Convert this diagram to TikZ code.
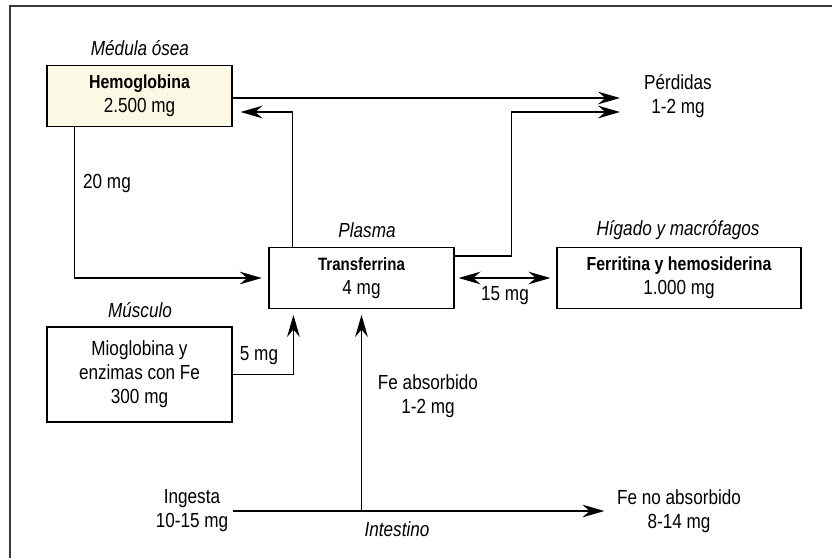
\documentclass[tikz,border=0pt]{standalone}
\usepackage{fontspec}
\setmainfont{Liberation Sans}[FakeStretch=0.84]
\usetikzlibrary{arrows.meta}

\definecolor{crema}{HTML}{FBF8E3}
\definecolor{marco}{HTML}{3A3A3A}

\begin{document}
\begin{tikzpicture}[x=0.75pt, y=-0.75pt,
    every node/.style={font=\fontsize{15.3}{18}\selectfont, align=center},
    caja/.style={draw, line width=0.85pt, minimum width=138.75pt, minimum height=45.5pt},
    flecha/.style={line width=1.05pt, -{Stealth[length=16.5pt, width=9.5pt, inset=5.5pt]}}]
    \useasboundingbox (0,0) rectangle (832,558);
    % marc retallat (només esquerra i dalt)
    \draw[marco, line width=1.5pt] (10,558) -- (10,6) -- (832,6);
    % compartiments
    \node[caja, fill=crema] (hemo) at (139.5,96) {{\bfseries\fontsize{14.2}{18}\selectfont Hemoglobina}\\2.500 mg};
    \node[caja] (trans) at (361.5,278) {{\bfseries\fontsize{13.4}{18}\selectfont Transferrina}\\4 mg};
    \node[caja, minimum width=183pt] (ferr) at (679,278) {{\bfseries\fontsize{14.2}{18}\selectfont Ferritina y hemosiderina}\\1.000 mg};
    \node[caja, minimum height=71.25pt] (musc) at (139.5,374.5) {Mioglobina y\\enzimas con Fe\\300 mg};
    % rètols en cursiva
    \node (medula) at (140,48) {\itshape Médula ósea};
    \node (plasma) at (367,230) {\itshape Plasma};
    \node (higado) at (678,230) {\itshape Hígado y macrófagos};
    \node (musculo) at (140,310) {\itshape Músculo};
    \node (intest) at (397,529) {\itshape Intestino};
    % entrades i sortides
    \node (perd) at (678,96) {Pérdidas\\1-2 mg};
    \node (ing) at (192,511) {Ingesta\\10-15 mg};
    \node (feno) at (679,511) {Fe no absorbido\\8-14 mg};
    \node (feabs) at (428,396) {Fe absorbido\\1-2 mg};
    \node (m20) at (107,183) {20 mg};
    \node (m5) at (259,356) {5 mg};
    \node (m15) at (505,296) {15 mg};
    % fletxes
    \coordinate (p1) at (620,98);
    \coordinate (p2) at (620,112);
    \draw[flecha] (hemo.east |- p1) -- (p1);
    \draw[flecha] ([yshift=-6.75pt]trans.north east) -- ++(57,0) |- (p2);
    \draw[flecha, shorten >=6pt] ([xshift=18pt]trans.north west) |- (hemo.east |- p2);
    \draw[flecha, shorten >=5pt] ([xshift=21pt]hemo.south west) |- (trans.west);
    \draw[line width=1.05pt, {Stealth[length=16.5pt, width=9.5pt, inset=5.5pt]}-{Stealth[length=16.5pt, width=9.5pt, inset=5.5pt]},
        shorten <=3pt, shorten >=4.5pt] (trans.east) -- (ferr.west);
    \draw[flecha, shorten >=4.5pt] (musc.east) -| ([xshift=18.75pt]trans.south west);
    \draw[flecha, shorten >=6pt] (ing.east) -- (feno.west);
    \draw[flecha, shorten >=4.5pt] (trans.south |- ing.east) -- (trans.south);
\end{tikzpicture}
\end{document}
